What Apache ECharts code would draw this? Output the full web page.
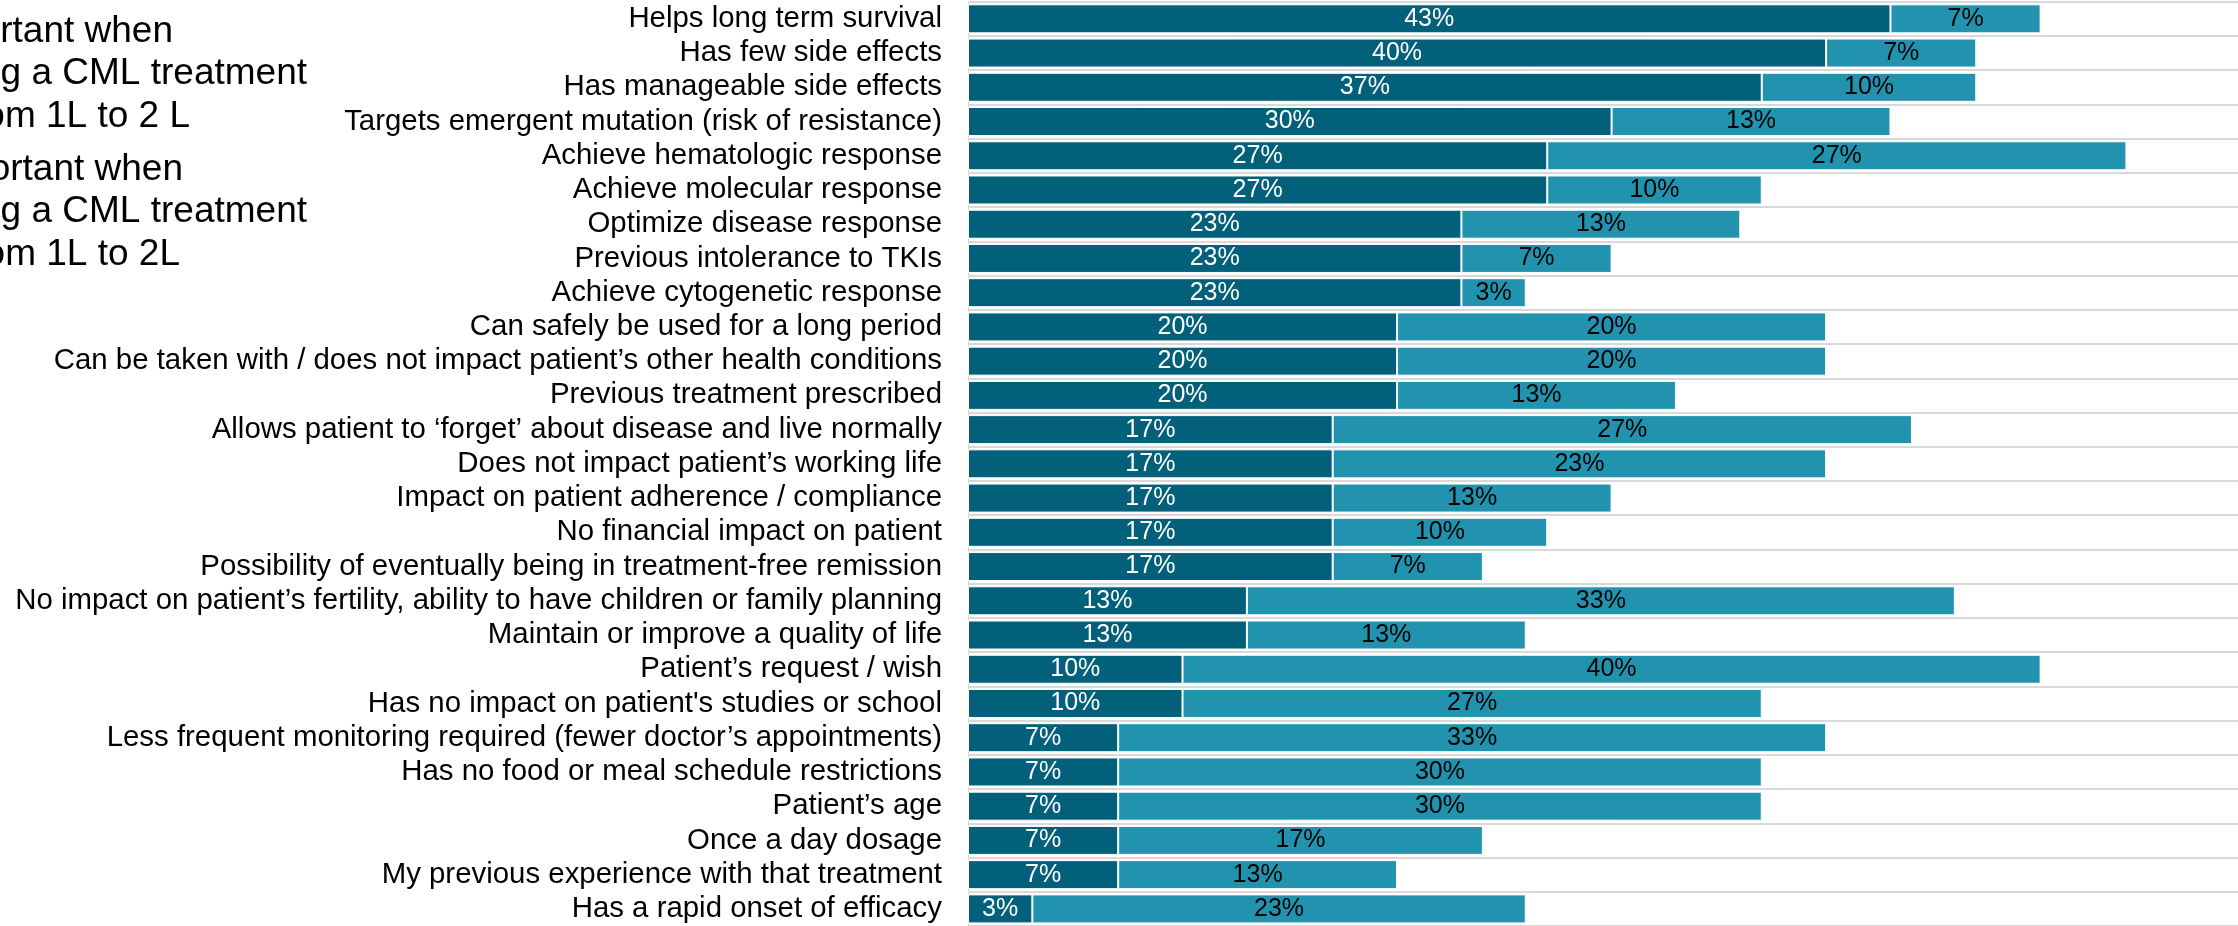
<!DOCTYPE html>
<html>
<head>
<meta charset="utf-8">
<title>CML treatment attributes</title>
<script src="https://cdn.jsdelivr.net/npm/echarts@6/dist/echarts.min.js"></script>
<style>
  html, body { margin: 0; padding: 0; background: #ffffff; }
  #chart { width: 2238px; height: 926px; }
</style>
</head>
<body>
<div id="chart"></div>
<script>
// Attribute categories, top to bottom
const categories = [
  'Helps long term survival',
  'Has few side effects',
  'Has manageable side effects',
  'Targets emergent mutation (risk of resistance)',
  'Achieve hematologic response',
  'Achieve molecular response',
  'Optimize disease response',
  'Previous intolerance to TKIs',
  'Achieve cytogenetic response',
  'Can safely be used for a long period',
  'Can be taken with / does not impact patient\u2019s other health conditions',
  'Previous treatment prescribed',
  'Allows patient to \u2018forget\u2019 about disease and live normally',
  'Does not impact patient\u2019s working life',
  'Impact on patient adherence / compliance',
  'No financial impact on patient',
  'Possibility of eventually being in treatment-free remission',
  'No impact on patient\u2019s fertility, ability to have children or family planning',
  'Maintain or improve a quality of life',
  'Patient\u2019s request / wish',
  "Has no impact on patient's studies or school",
  'Less frequent monitoring required (fewer doctor\u2019s appointments)',
  'Has no food or meal schedule restrictions',
  'Patient\u2019s age',
  'Once a day dosage',
  'My previous experience with that treatment',
  'Has a rapid onset of efficacy'
];

// Share of respondents (%) rating each attribute as most important
const mostImportant = [43, 40, 37, 30, 27, 27, 23, 23, 23, 20, 20, 20, 17, 17, 17, 17, 17, 13, 13, 10, 10, 7, 7, 7, 7, 7, 3];

// Share of respondents (%) rating each attribute as important
const important = [7, 7, 10, 13, 27, 10, 13, 7, 3, 20, 20, 13, 27, 23, 13, 10, 7, 33, 13, 40, 27, 33, 30, 30, 17, 13, 23];

// Legend text lines (left edge of the legend block runs off the page)
const legendMost = ['rtant when', 'g a CML treatment', 'om 1L to 2 L'];
const legendImportant = ['ortant when', 'g a CML treatment', 'om 1L to 2L'];

const FONT = '"Liberation Sans", Arial, Helvetica, sans-serif';
const DARK = '#02607A';
const LIGHT = '#2193AE';

function legendTexts(lines, rightEdges, middles) {
  return lines.map((t, i) => ({
    type: 'text',
    x: rightEdges[i],
    y: middles[i],
    style: {
      text: t,
      fontSize: 37,
      fontFamily: FONT,
      fill: '#000000',
      align: 'right',
      verticalAlign: 'middle'
    }
  }));
}

const chart = echarts.init(document.getElementById('chart'), null, { renderer: 'canvas' });

chart.setOption({
  animation: false,
  backgroundColor: '#ffffff',
  textStyle: { fontFamily: FONT },
  grid: { left: 968, top: 1.7, right: 0, height: 927.7, containLabel: false },
  xAxis: {
    type: 'value',
    min: 0,
    max: 59.2,
    show: false,
    splitLine: { show: false }
  },
  yAxis: {
    type: 'category',
    inverse: true,
    data: categories,
    axisTick: { show: false, interval: 0 },
    axisLine: { show: true, lineStyle: { color: '#d9d9d9', width: 1 } },
    splitLine: { show: true, interval: 0, lineStyle: { color: '#d9d9d9', width: 2 } },
    axisLabel: { interval: 0, fontSize: 29.4, color: '#000000', margin: 26, fontFamily: FONT }
  },
  graphic: [
    ...legendTexts(legendMost, [173, 307, 190], [31.5, 73.5, 116.5]),
    ...legendTexts(legendImportant, [183, 307, 180], [169.5, 211.5, 254.5])
  ],
  series: [
    {
      name: 'Most important',
      type: 'bar',
      stack: 'total',
      data: mostImportant,
      barWidth: 29,
      itemStyle: { color: DARK, borderColor: '#ffffff', borderWidth: 1 },
      label: {
        show: true,
        position: 'inside',
        color: '#ffffff',
        fontSize: 25,
        fontFamily: FONT,
        formatter: p => p.value + '%'
      }
    },
    {
      name: 'Important',
      type: 'bar',
      stack: 'total',
      data: important,
      barWidth: 29,
      itemStyle: { color: LIGHT, borderColor: '#ffffff', borderWidth: 1 },
      label: {
        show: true,
        position: 'inside',
        color: '#000000',
        fontSize: 25,
        fontFamily: FONT,
        formatter: p => p.value + '%'
      }
    }
  ]
});
</script>
</body>
</html>
